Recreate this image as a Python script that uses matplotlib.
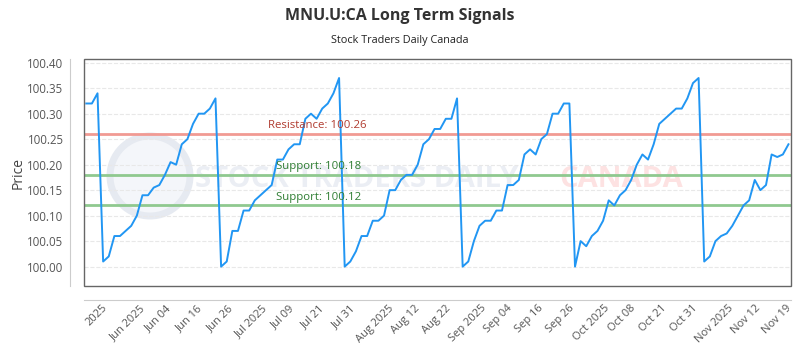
import matplotlib.pyplot as plt
import numpy as np
from matplotlib.patches import Ellipse, Rectangle

# daily closes
prices = [
    100.32, 100.32, 100.34, 100.01, 100.02, 100.06, 100.06, 100.07, 100.08, 100.10,
    100.14, 100.14, 100.155, 100.16, 100.18, 100.205, 100.20, 100.24, 100.25, 100.28,
    100.30, 100.30, 100.31, 100.33, 100.00, 100.01, 100.07, 100.07, 100.11, 100.11,
    100.13, 100.14, 100.15, 100.16, 100.21, 100.21, 100.23, 100.24, 100.24, 100.29,
    100.30, 100.29, 100.31, 100.32, 100.34, 100.37, 100.00, 100.01, 100.03, 100.06,
    100.06, 100.09, 100.09, 100.10, 100.15, 100.15, 100.17, 100.18, 100.18, 100.20,
    100.24, 100.25, 100.27, 100.27, 100.29, 100.29, 100.33, 100.00, 100.01, 100.05,
    100.08, 100.09, 100.09, 100.11, 100.11, 100.16, 100.16, 100.17, 100.22, 100.23,
    100.22, 100.25, 100.26, 100.30, 100.30, 100.32, 100.32, 100.00, 100.05, 100.04,
    100.06, 100.07, 100.09, 100.13, 100.12, 100.14, 100.15, 100.17, 100.20, 100.22,
    100.21, 100.24, 100.28, 100.29, 100.30, 100.31, 100.31, 100.33, 100.36, 100.37,
    100.01, 100.02, 100.05, 100.06, 100.065, 100.08, 100.10, 100.12, 100.13, 100.17,
    100.15, 100.16, 100.22, 100.215, 100.22, 100.24,
]
tick_labels = ['2025', 'Jun 2025', 'Jun 04', 'Jun 16', 'Jun 26', 'Jul 2025', 'Jul 09',
               'Jul 21', 'Jul 31', 'Aug 2025', 'Aug 12', 'Aug 22', 'Sep 2025', 'Sep 04',
               'Sep 16', 'Sep 26', 'Oct 2025', 'Oct 08', 'Oct 21', 'Oct 31', 'Nov 2025',
               'Nov 12', 'Nov 19']
resistance = 100.26
supports = [100.18, 100.12]

plt.rcParams['font.family'] = ['Open Sans', 'DejaVu Sans']

fig = plt.figure(figsize=(8, 3.5), dpi=100)
ax = fig.add_axes([0.1054, 0.1829, 0.883, 0.6477])
ax.patch.set_alpha(0)

# watermark behind the axes
fig.add_artist(Ellipse((150 / 800, 1 - 176 / 350), 80 / 800, 80 / 350,
                       facecolor='#f4f6fa', edgecolor='#e6eaf1', lw=5, zorder=-2))
fig.text(357 / 800, 1 - 180 / 350, 'STOCK TRADERS DAILY', fontsize=21, fontweight='bold',
         color='#ebeef4', ha='center', va='center', zorder=-2)
fig.text(621 / 800, 1 - 180 / 350, 'CANADA', fontsize=21, fontweight='bold',
         color='#fde2e2', ha='center', va='center', zorder=-2)

x = np.arange(len(prices))
ax.plot(x, prices, color='#2196f3', lw=1.4, zorder=3)

ax.axhline(resistance, color='#f19a93', lw=2, zorder=2)
ax.annotate(f'Resistance: {resistance:.2f}', (32.3, resistance), xytext=(0, 2),
            textcoords='offset points', color='#b03a2e', fontsize=8.2, va='bottom')
for s in supports:
    ax.axhline(s, color='#8fc98f', lw=2, zorder=2)
    ax.annotate(f'Support: {s:.2f}', (33.8, s), xytext=(0, 2),
                textcoords='offset points', color='#2e7d32', fontsize=8.2, va='bottom')

ax.set_xlim(-0.35, len(prices) - 0.6)
ax.set_ylim(99.962, 100.4067)
yt = np.arange(100.0, 100.401, 0.05)
ax.set_yticks(yt)
ax.set_yticklabels([f'{v:.2f}' for v in yt])
ax.set_xticks(np.linspace(1.9, 122.9, len(tick_labels)))
ax.set_xticklabels(tick_labels)
ax.tick_params(length=0, labelsize=8.3, labelcolor='#555555')
ax.tick_params(axis='y', pad=5)
ax.tick_params(axis='x', labelrotation=45, labelsize=8, pad=2)
for lbl in ax.get_xticklabels():
    lbl.set_ha('right')
    lbl.set_rotation_mode('anchor')
ax.yaxis.grid(True, linestyle='--', color='#e8e8e8', lw=0.8)
ax.set_ylabel('Price', fontsize=10, color='#444444', labelpad=1.5)

for side in ['top', 'right']:
    ax.spines[side].set_visible(False)
for side in ['left', 'bottom']:
    ax.spines[side].set_position(('outward', 10))
    ax.spines[side].set_color('#cccccc')
ax.add_patch(Rectangle((0, 0), 1, 1, transform=ax.transAxes, fill=False,
                       edgecolor='#666666', lw=1, zorder=4, clip_on=False))

fig.text(0.5, 1 - 16 / 350, 'MNU.U:CA Long Term Signals', fontsize=11.5,
         fontweight='bold', color='#333333', ha='center', va='center')
fig.text(0.5, 1 - 40 / 350, 'Stock Traders Daily Canada', fontsize=7.8,
         color='#222222', ha='center', va='center')

plt.savefig('out.png', dpi=100)
